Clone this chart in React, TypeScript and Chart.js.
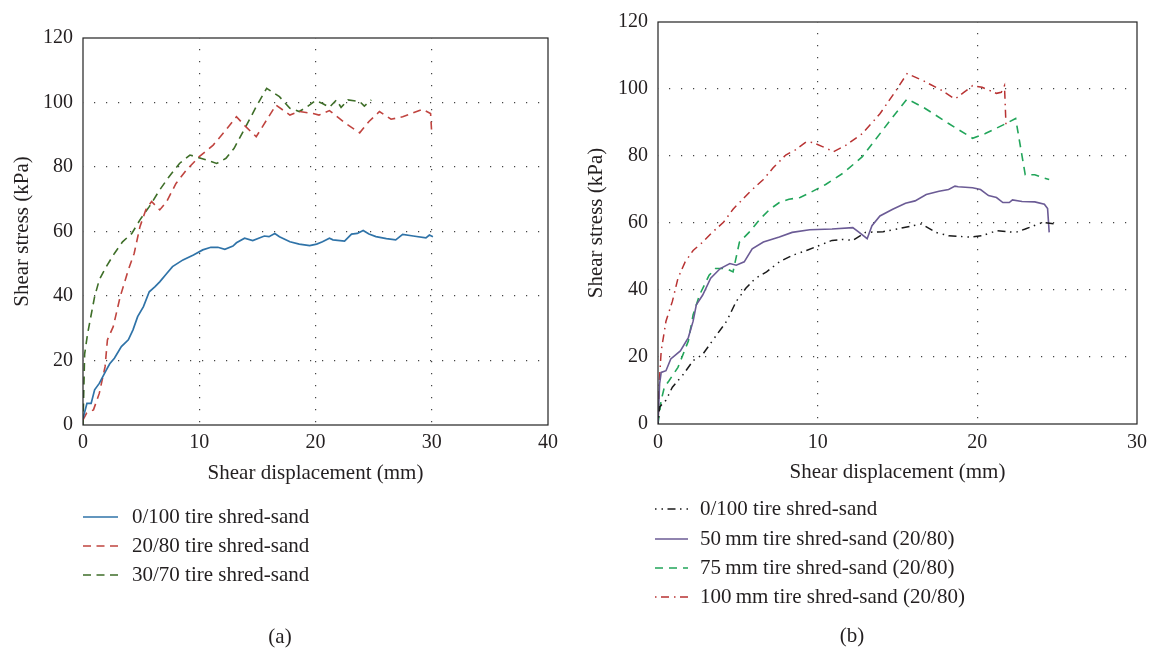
import React, { useEffect, useRef } from 'react';
import { Chart, registerables } from 'chart.js';

Chart.register(...registerables);

const FONT = '"Liberation Serif", "Times New Roman", serif';
const TEXT = '#231f20';

// ---------- Panel (a) data: [shear displacement (mm), shear stress (kPa)] ----------
const A_LABELS = ['0/100 tire shred-sand', '20/80 tire shred-sand', '30/70 tire shred-sand'];

const A_0_100: [number, number][] = [
  [0, 2], [0.34, 6.7], [0.7, 6.7], [1.0, 10.9], [1.4, 12.9], [2.0, 17], [2.3, 19], [2.7, 20.7],
  [3.3, 24.3], [3.9, 26.4], [4.3, 29.5], [4.7, 33.6], [5.2, 36.7], [5.7, 41.3], [6.2, 42.9],
  [6.6, 44.4], [7.2, 47], [7.7, 49.1], [8.6, 51.2], [9.5, 52.7], [10.3, 54.3], [11.0, 55.1],
  [11.6, 55.1], [12.2, 54.5], [12.9, 55.5], [13.2, 56.5], [13.9, 57.9], [14.6, 57.2], [15.6, 58.6],
  [16.0, 58.4], [16.5, 59.4], [16.9, 58.4], [17.8, 56.8], [18.6, 56.1], [19.5, 55.6], [20.1, 56.1],
  [20.6, 56.8], [21.2, 57.9], [21.5, 57.4], [22.5, 57], [23.1, 59.2], [23.6, 59.4], [24.1, 60.3],
  [24.6, 59.2], [25.2, 58.4], [26.1, 57.8], [26.9, 57.4], [27.5, 59.1], [28.4, 58.6], [29.5, 58],
  [29.8, 58.9], [30.1, 58.4],
];

const A_20_80: [number, number][] = [
  [0, 1.6], [0.3, 3.6], [0.9, 4.7], [1.4, 9.8], [1.9, 18.1], [2.1, 26.4], [2.6, 30.5], [3.2, 39.8],
  [3.9, 48.1], [4.4, 53.2], [4.9, 61.5], [5.4, 66.7], [5.9, 69.3], [6.6, 66.7], [7.2, 69.3],
  [8.0, 74.9], [8.9, 79.1], [10.0, 83.2], [11.2, 86.8], [12.3, 91.5], [13.2, 95.6], [14.0, 92.5],
  [14.9, 89.4], [15.8, 94.6], [16.6, 99.2], [17.8, 96.1], [18.6, 97.2], [19.8, 96.6], [20.3, 96.1],
  [21.2, 97.5], [22.6, 93.5], [23.8, 90.6], [24.6, 94.1], [25.5, 97.2], [26.5, 94.8], [27.5, 95.6],
  [29.2, 97.9], [29.9, 96.6], [30.0, 90.4],
];

const A_30_70: [number, number][] = [
  [0, 0], [0.14, 22], [0.4, 28.4], [1.0, 39.8], [1.4, 45], [2.0, 49.1], [2.7, 53.2], [3.4, 56.8],
  [4.2, 59.4], [4.9, 63.6], [5.7, 67.7], [6.6, 72.9], [7.4, 77], [8.3, 81.1], [9.2, 83.7],
  [9.7, 83.2], [10.6, 82.2], [11.5, 81.1], [12.3, 82.7], [13.0, 85.8], [14.0, 92.5], [14.9, 98.7],
  [15.8, 104.4], [16.9, 101.8], [17.8, 98.2], [18.6, 97.2], [19.2, 98.5], [20.0, 100.6],
  [20.6, 99.7], [21.2, 98.5], [21.8, 100.8], [22.2, 98.5], [22.8, 100.8], [23.8, 100.3],
  [24.2, 98.9], [24.8, 100.8],
];

// ---------- Panel (b) data ----------
const B_LABELS = [
  '0/100 tire shred-sand',
  '50\u2009mm tire shred-sand (20/80)',
  '75\u2009mm tire shred-sand (20/80)',
  '100\u2009mm tire shred-sand (20/80)',
];

const B_0_100: [number, number][] = [
  [0, 0], [0.1, 5.1], [0.5, 7.1], [0.9, 11], [1.6, 14.9], [2.2, 18.9], [2.8, 20.8], [3.4, 24.8],
  [4.3, 30.7], [4.9, 36.6], [5.5, 40.5], [6.1, 43.5], [6.8, 45.4], [7.6, 48.4], [8.4, 50.3],
  [9.3, 51.8], [10.1, 53.3], [10.9, 54.8], [11.6, 55.1], [12.2, 54.8], [13.0, 57.2], [14.1, 57.4],
  [15.5, 58.7], [16.5, 59.7], [17.4, 57.2], [18.2, 56.2], [19.5, 55.8], [20.3, 56.2], [21.2, 57.7],
  [22.4, 57.2], [23.0, 58.2], [24.1, 60.2], [24.9, 59.7],
];

const B_50MM: [number, number][] = [
  [0, 0], [0.1, 12], [0.2, 15.4], [0.5, 15.9], [0.8, 19.4], [1.4, 21.8], [1.9, 25.8], [2.2, 30.7],
  [2.4, 35.6], [2.8, 38.5], [3.3, 43.5], [3.9, 46.4], [4.5, 47.9], [4.9, 47.4], [5.4, 48.4],
  [5.9, 52.3], [6.6, 54.3], [7.6, 55.8], [8.4, 57.2], [9.5, 58], [10.9, 58.2], [12.2, 58.6],
  [12.6, 57.2], [13.1, 55.3], [13.4, 59.2], [13.9, 62.1], [14.7, 64.1], [15.5, 65.9], [16.1, 66.6],
  [16.8, 68.5], [17.6, 69.5], [18.2, 70], [18.6, 71], [18.8, 70.8], [19.7, 70.5], [20.2, 70],
  [20.7, 68.2], [21.2, 67.6], [21.6, 66.1], [22.0, 66.1], [22.2, 66.9], [22.8, 66.4], [23.6, 66.3],
  [24.2, 65.6], [24.4, 64.3], [24.5, 57.2],
];

const B_75MM: [number, number][] = [
  [0, 0], [0.2, 7.1], [0.4, 11], [0.7, 13], [1.25, 16.9], [1.9, 24.8], [2.2, 32.6], [2.6, 38.5],
  [3.2, 44.4], [3.6, 46.4], [4.3, 46.4], [4.7, 45.4], [5.1, 54.3], [5.7, 57.2], [6.4, 61.2],
  [7.0, 64.1], [7.6, 66.1], [8.2, 67.1], [8.9, 67.6], [9.5, 69], [10.5, 71.5], [11.6, 74.9],
  [12.8, 79.8], [13.6, 84.8], [14.7, 91.6], [15.6, 97], [16.6, 94.6], [18.2, 89.7], [19.7, 85.3],
  [20.5, 86.7], [21.8, 89.7], [22.4, 91.2], [23.0, 74.4], [23.6, 74.4], [24.1, 73.5], [24.5, 73],
];

const B_100MM: [number, number][] = [
  [0, 0], [0.1, 14], [0.2, 21.8], [0.5, 30.7], [0.9, 36.6], [1.25, 43.5], [1.7, 48.4], [2.2, 51.8],
  [2.8, 54.3], [3.4, 57.2], [4.1, 60.2], [4.7, 64.1], [5.3, 67.1], [5.9, 70], [6.6, 73], [7.2, 76.4],
  [8.0, 80.3], [8.6, 81.8], [9.3, 84.3], [9.7, 84], [10.3, 82.8], [11.0, 81.3], [11.8, 83.3],
  [12.8, 86.7], [13.9, 92.6], [14.9, 99.5], [15.6, 104.6], [16.6, 102.5], [17.8, 99.5], [18.6, 97],
  [19.3, 99.5], [19.7, 101], [20.3, 100.5], [20.7, 99.7], [21.2, 98.7], [21.5, 99], [21.7, 101],
  [21.8, 88.7],
];

const Y_MAX = 120;
const Y_STEP = 20;

type Series = { label: string; data: [number, number][]; color: string; dash: number[]; width: number };

type PanelSpec = {
  series: Series[];
  xMax: number;
  area: { left: number; top: number; right: number; bottom: number };
  canvasW: number;
  canvasH: number;
  xAxisH: number;
  xTickPad: number;
  yTitlePad: number;
  legend: { x1: number; x2: number; textX: number; rows: number[] };
  caption: { text: string; x: number; y: number };
};

const panelPlugin = {
  id: 'panel',
  afterDatasetsDraw(chart: any) {
    const { ctx, chartArea: a } = chart;
    ctx.save();
    ctx.strokeStyle = '#222';
    ctx.lineWidth = 1.2;
    ctx.setLineDash([]);
    ctx.strokeRect(a.left, a.top, a.right - a.left, a.bottom - a.top);
    ctx.restore();
  },
  afterDraw(chart: any, _args: any, opts: any) {
    const { ctx } = chart;
    const lg = opts.legend;
    ctx.save();
    chart.data.datasets.forEach((ds: any, i: number) => {
      const y = lg.rows[i];
      ctx.beginPath();
      ctx.strokeStyle = ds.borderColor;
      ctx.lineWidth = ds.borderWidth;
      ctx.setLineDash(ds.borderDash || []);
      ctx.moveTo(lg.x1, y);
      ctx.lineTo(lg.x2, y);
      ctx.stroke();
      ctx.setLineDash([]);
      ctx.fillStyle = TEXT;
      ctx.font = `21px ${FONT}`;
      ctx.textAlign = 'left';
      ctx.textBaseline = 'middle';
      ctx.fillText(ds.label, lg.textX, y);
    });
    const c = opts.caption;
    ctx.fillStyle = TEXT;
    ctx.font = `21px ${FONT}`;
    ctx.textAlign = 'center';
    ctx.textBaseline = 'middle';
    ctx.fillText(c.text, c.x, c.y);
    ctx.restore();
  },
};

function gridColor(max: number) {
  return (ctx: any) => {
    const v = ctx.tick ? ctx.tick.value : null;
    if (v === 0 || v === max) return 'rgba(0,0,0,0)';
    return '#444';
  };
}

function buildConfig(spec: PanelSpec): any {
  const { area, canvasW, canvasH, xAxisH } = spec;
  return {
    type: 'line',
    data: {
      datasets: spec.series.map((s) => ({
        label: s.label,
        data: s.data.map(([x, y]) => ({ x, y })),
        borderColor: s.color,
        backgroundColor: s.color,
        borderWidth: s.width,
        borderDash: s.dash,
        pointRadius: 0,
        tension: 0,
        fill: false,
      })),
    },
    options: {
      animation: false,
      responsive: false,
      devicePixelRatio: 1,
      layout: {
        padding: {
          left: 0,
          top: area.top,
          right: canvasW - area.right,
          bottom: canvasH - area.bottom - xAxisH,
        },
      },
      plugins: {
        legend: { display: false },
        tooltip: { enabled: false },
        panel: { legend: spec.legend, caption: spec.caption },
      },
      scales: {
        x: {
          type: 'linear',
          min: 0,
          max: spec.xMax,
          ticks: { stepSize: 10, color: TEXT, font: { family: FONT, size: 20 }, padding: spec.xTickPad, maxRotation: 0 },
          grid: { color: gridColor(spec.xMax), lineWidth: 1.2, drawTicks: false, borderDash: [1.2, 10.8], borderDashOffset: 1 } as any,
          border: { display: false, dash: [1.2, 10.8], dashOffset: 1 },
          title: {
            display: true,
            text: 'Shear displacement (mm)',
            color: TEXT,
            font: { family: FONT, size: 21 },
            padding: { top: 0, bottom: 0 },
          },
          afterFit: (scale: any) => {
            scale.height = xAxisH;
          },
        },
        y: {
          min: 0,
          max: Y_MAX,
          ticks: { stepSize: Y_STEP, color: TEXT, font: { family: FONT, size: 20 }, padding: 10 },
          grid: { color: gridColor(Y_MAX), lineWidth: 1.2, drawTicks: false },
          border: { display: false, dash: [1.2, 10.8], dashOffset: 1 },
          title: {
            display: true,
            text: 'Shear stress (kPa)',
            color: TEXT,
            font: { family: FONT, size: 21 },
            padding: { top: spec.yTitlePad, bottom: 0 },
          },
          afterFit: (scale: any) => {
            scale.width = area.left;
          },
        },
      },
    },
    plugins: [panelPlugin],
  };
}

const PANEL_A: PanelSpec = {
  series: [
    { label: A_LABELS[0], data: A_0_100, color: '#2f73a8', dash: [], width: 1.7 },
    { label: A_LABELS[1], data: A_20_80, color: '#c0443f', dash: [8, 5.5], width: 1.6 },
    { label: A_LABELS[2], data: A_30_70, color: '#3e6e28', dash: [8, 5.5], width: 1.6 },
  ],
  xMax: 40,
  area: { left: 83, top: 38, right: 548, bottom: 425 },
  canvasW: 577,
  canvasH: 652,
  xAxisH: 61,
  xTickPad: 6,
  yTitlePad: 10,
  legend: { x1: 83, x2: 118, textX: 132, rows: [517, 546, 575] },
  caption: { text: '(a)', x: 280, y: 637 },
};

const PANEL_B: PanelSpec = {
  series: [
    { label: B_LABELS[0], data: B_0_100, color: '#1a1a1a', dash: [1.5, 5, 1.5, 4.5, 8, 4.5], width: 1.5 },
    { label: B_LABELS[1], data: B_50MM, color: '#6b5b95', dash: [], width: 1.6 },
    { label: B_LABELS[2], data: B_75MM, color: '#22a55a', dash: [8, 6], width: 1.6 },
    { label: B_LABELS[3], data: B_100MM, color: '#b83232', dash: [1.5, 4.5, 8, 5], width: 1.5 },
  ],
  xMax: 30,
  area: { left: 81, top: 17, right: 561, bottom: 424 },
  canvasW: 577,
  canvasH: 652,
  xAxisH: 61,
  xTickPad: 7,
  yTitlePad: 7,
  legend: { x1: 78, x2: 111, textX: 123, rows: [509, 539, 568, 597] },
  caption: { text: '(b)', x: 275, y: 636 },
};

function Panel({ spec, left }: { spec: PanelSpec; left: number }) {
  const ref = useRef<HTMLCanvasElement | null>(null);
  useEffect(() => {
    if (!ref.current) return;
    const chart = new Chart(ref.current, buildConfig(spec));
    return () => chart.destroy();
  }, [spec]);
  return (
    <canvas
      ref={ref}
      width={spec.canvasW}
      height={spec.canvasH}
      style={{ position: 'absolute', left, top: 0, width: spec.canvasW, height: spec.canvasH, display: 'block' }}
    />
  );
}

export default function App() {
  return (
    <div style={{ position: 'absolute', left: 0, top: 0, width: 1154, height: 652, background: '#fff', overflow: 'hidden' }}>
      <Panel spec={PANEL_A} left={0} />
      <Panel spec={PANEL_B} left={577} />
    </div>
  );
}
